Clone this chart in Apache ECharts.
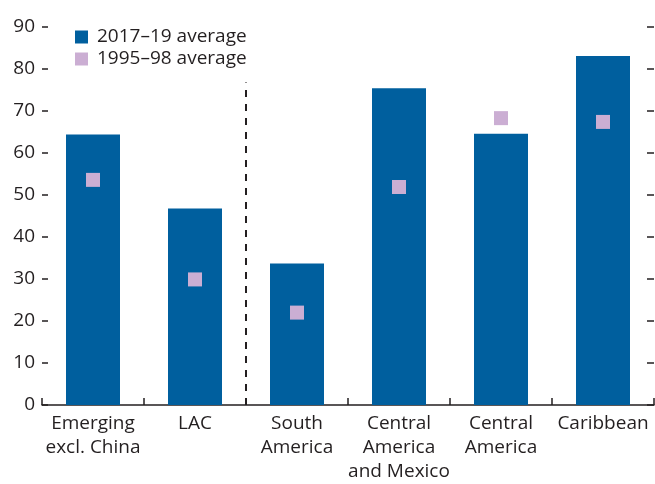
<!DOCTYPE html>
<html>
<head>
<meta charset="utf-8">
<script src="https://cdn.jsdelivr.net/npm/echarts@6/dist/echarts.min.js"></script>
<style>
html,body{margin:0;padding:0;background:#fff;}
#chart{width:655px;height:484px;}
</style>
</head>
<body>
<div id="chart"></div>
<script>
const categories = ["Emerging\nexcl. China", "LAC", "South\nAmerica", "Central\nAmerica\nand Mexico", "Central\nAmerica", "Caribbean"];
const avg2017_19 = [64.4, 46.8, 33.7, 75.4, 64.6, 83.1];
const avg1995_98 = [53.6, 29.9, 22.0, 51.9, 68.3, 67.4];
const dividerLine = [[2, 0], [2, 76.8]];
const yTicks = {min: 0, max: 90, interval: 10};

const FONT = "Open Sans";
const TXT = "#231f20";

const chart = echarts.init(document.getElementById('chart'), null, {renderer: 'canvas'});
chart.setOption({
  animation: false,
  backgroundColor: '#ffffff',
  textStyle: {fontFamily: FONT, color: TXT},
  grid: {left: 42, right: 1, top: 27, bottom: 73, containLabel: false},
  legend: {
    orient: 'vertical',
    left: 75, top: 27,
    padding: 0,
    itemWidth: 13, itemHeight: 13, itemGap: 2,
    icon: 'rect',
    data: ['2017–19 average', '1995–98 average'],
    textStyle: {fontFamily: FONT, fontSize: 19, color: TXT, padding: [0, 0, 0, 4], lineHeight: 20}
  },
  xAxis: [{
    type: 'category',
    data: categories,
    axisLine: {show: true, lineStyle: {color: TXT, width: 1.5}},
    axisTick: {show: true, inside: true, length: 7, lineStyle: {color: TXT, width: 1.5}},
    axisLabel: {fontFamily: FONT, fontSize: 19, color: TXT, lineHeight: 24, margin: 7, interval: 0},
    splitLine: {show: false}
  }, {
    type: 'value', min: 0, max: 6, show: false
  }],
  yAxis: [{
    type: 'value', min: yTicks.min, max: yTicks.max, interval: yTicks.interval,
    position: 'left',
    axisLine: {show: false},
    axisTick: {show: true, inside: true, length: 6, lineStyle: {color: TXT, width: 1.5}},
    axisLabel: {fontFamily: FONT, fontSize: 19, color: TXT, margin: 7},
    splitLine: {show: false}
  }, {
    type: 'value', min: yTicks.min, max: yTicks.max, interval: yTicks.interval,
    position: 'right',
    axisLine: {show: false},
    axisTick: {show: true, inside: true, length: 7, lineStyle: {color: TXT, width: 1.5}},
    axisLabel: {show: false},
    splitLine: {show: false}
  }],
  series: [{
    name: '2017–19 average',
    type: 'bar',
    data: avg2017_19,
    barWidth: 54,
    itemStyle: {color: '#005f9e'},
    z: 2
  }, {
    name: '1995–98 average',
    type: 'scatter',
    data: avg1995_98,
    symbol: 'rect',
    symbolSize: 14,
    itemStyle: {color: '#cbaed3', opacity: 1},
    z: 3
  }, {
    name: 'divider',
    type: 'line',
    xAxisIndex: 1,
    yAxisIndex: 0,
    data: dividerLine,
    symbol: 'none',
    lineStyle: {color: TXT, width: 2, type: [7, 7]},
    z: 4
  }]
});
</script>
</body>
</html>
